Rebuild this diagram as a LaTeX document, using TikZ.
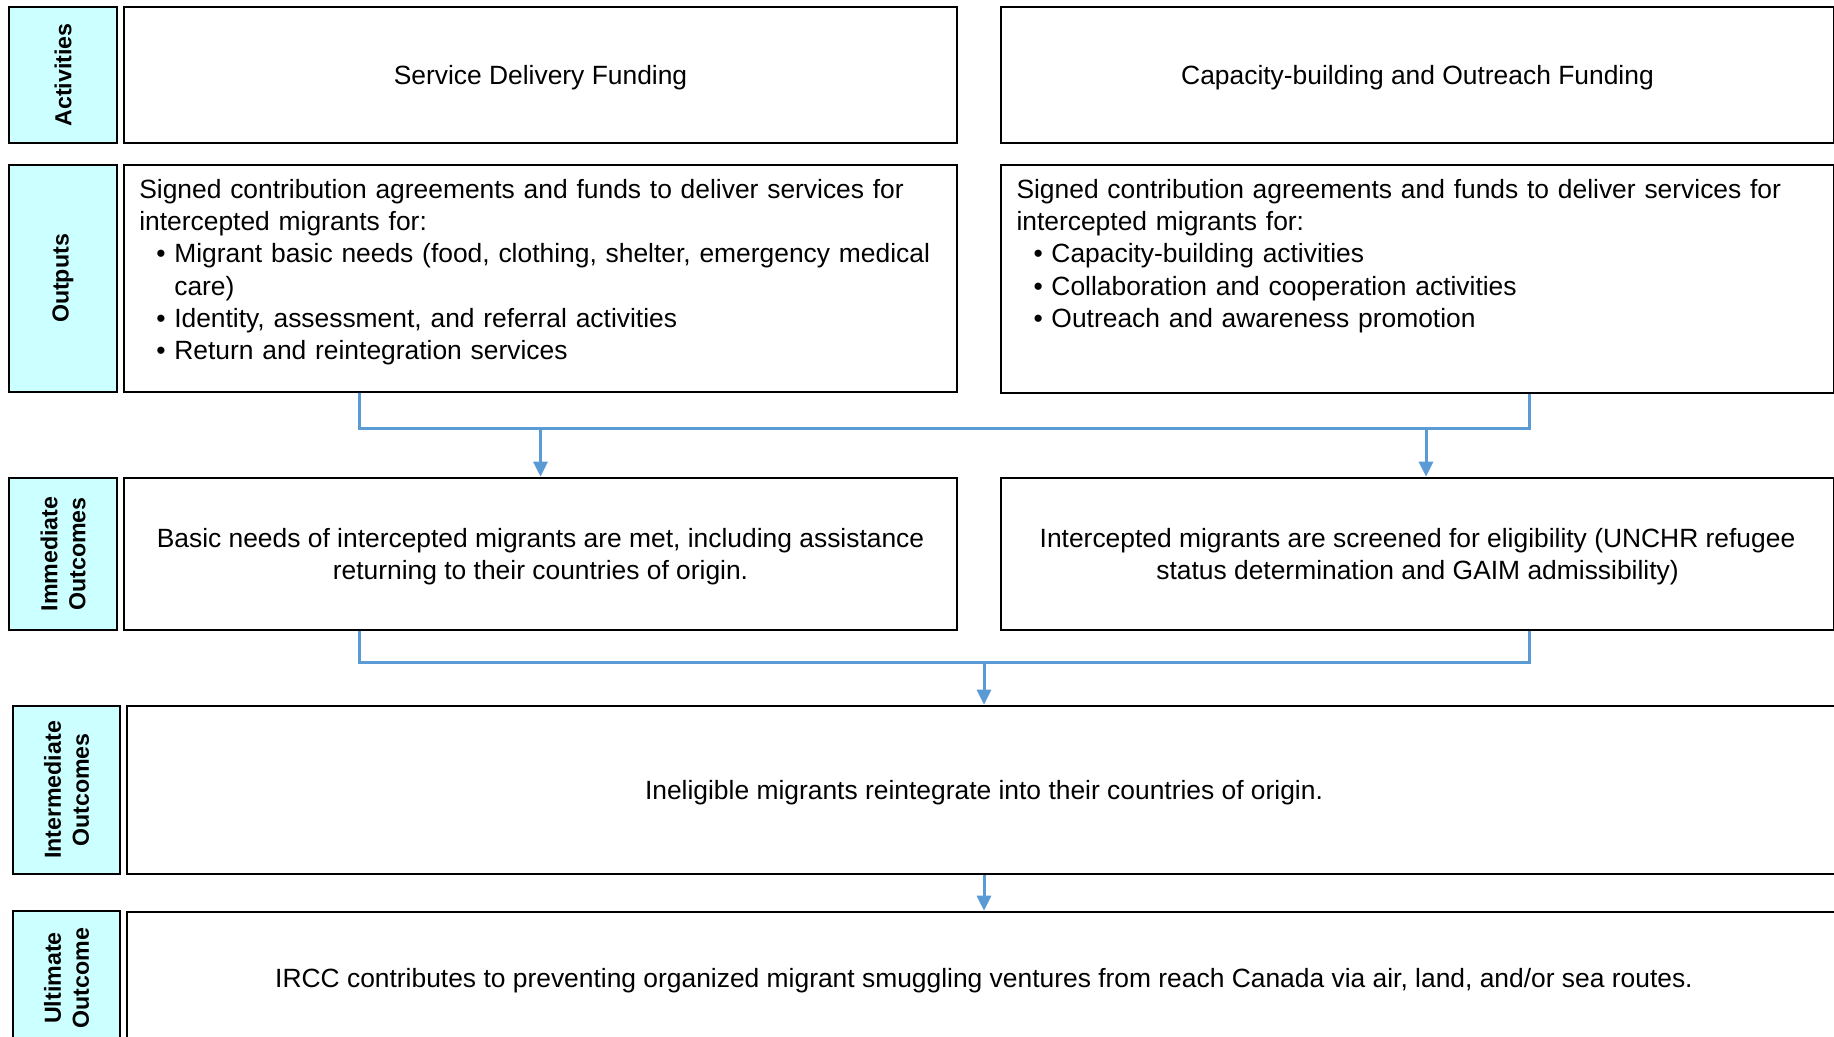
\documentclass[tikz,border=0pt]{standalone}
\usepackage{fontspec}
\setmainfont{Liberation Sans}
\usetikzlibrary{arrows.meta}
\definecolor{tagcyan}{RGB}{204,255,255}
\definecolor{linkblue}{RGB}{91,155,213}
\newcommand\bul[1]{\par\hangindent=17.5pt\hangafter=1\hspace*{8.5pt}\makebox[9pt][l]{\textbullet}#1}

\begin{document}
\begin{tikzpicture}[x=0.5pt,y=-0.5pt,
    every node/.style={font=\fontsize{13.2}{16.1}\selectfont},
    tag/.style={draw,line width=1.3pt,fill=tagcyan,rotate=90,align=center,inner sep=0pt,
        font=\fontsize{11.6}{14}\selectfont\bfseries},
    box/.style={draw,line width=1.3pt,fill=white,align=center,inner sep=0pt,text depth=-1.2pt},
    half/.style={box,minimum width=416.5pt},
    txt/.style={inner sep=0pt,text width=405pt,align=left,anchor=north west},
    link/.style={draw=linkblue,line width=1.5pt},
    arr/.style={link,-{Triangle[length=7.5pt,width=7pt]}}]
    \clip (0,0) rectangle (1834,1037);

    \node[tag,minimum width=68pt,minimum height=54pt] (tagAct) at (63,75) {Activities};
    \node[tag,minimum width=113.5pt,minimum height=54pt] (tagOut) at (63,278.5) {Outputs};
    \node[tag,minimum width=76pt,minimum height=54pt] (tagImm) at (63,554) {Immediate\\Outcomes};
    \node[tag,minimum width=84pt,minimum height=53.5pt] (tagInt) at (66.5,790) {Intermediate\\Outcomes};
    \node[tag,minimum width=67pt,minimum height=53.5pt] (tagUlt) at (66.5,978) {Ultimate\\Outcome};

    \node[half,minimum height=68pt] (actL) at (540.5,75) {Service Delivery Funding};
    \node[half,minimum height=68pt] (actR) at (1417.5,75) {Capacity-building and Outreach Funding};
    \node[half,minimum height=113.5pt] (outL) at (540.5,278.5) {};
    \node[half,minimum height=114pt] (outR) at (1417.5,279) {};
    \node[half,minimum height=76pt] (immL) at (540.5,554)
        {Basic needs of intercepted migrants are met, including assistance\\returning to their countries of origin.};
    \node[half,minimum height=76pt] (immR) at (1417.5,554)
        {Intercepted migrants are screened for eligibility (UNCHR refugee\\status determination and GAIM admissibility)};
    \node[box,minimum width=857pt,minimum height=84pt] (intm) at (984,790)
        {Ineligible migrants reintegrate into their countries of origin.};
    \node[box,minimum width=857pt,minimum height=66pt] (ult) at (984,978)
        {IRCC contributes to preventing organized migrant smuggling ventures from reach Canada via air, land, and/or sea routes.};

    \node[txt] (outLtxt) at ([xshift=8.1pt,yshift=-7.6pt]outL.north west)
        {Signed contribution agreements and funds to deliver services for\newline intercepted migrants for:
        \bul{Migrant basic needs (food, clothing, shelter, emergency medical\newline care)}
        \bul{Identity, assessment, and referral activities}
        \bul{Return and reintegration services}};
    \node[txt] (outRtxt) at ([xshift=8.2pt,yshift=-7.6pt]outR.north west)
        {Signed contribution agreements and funds to deliver services for\newline intercepted migrants for:
        \bul{Capacity-building activities}
        \bul{Collaboration and cooperation activities}
        \bul{Outreach and awareness promotion}};

    \coordinate (busA) at (359,428);
    \coordinate (busB) at (1529,428);
    \coordinate (dropR) at (1426,428);
    \coordinate (busC) at (359,662);
    \coordinate (busD) at (1529,662);

    \draw[link] (outL.south -| busA) -- (busA) -- (busB) -- (outR.south -| busB);
    \draw[arr] (immL.north |- busA) -- (immL.north);
    \draw[arr] (dropR) -- (immR.north -| dropR);
    \draw[link] (immL.south -| busC) -- (busC) -- (busD) -- (immR.south -| busD);
    \draw[arr] (intm.north |- busC) -- (intm.north);
    \draw[arr] (intm.south) -- (ult.north);
\end{tikzpicture}
\end{document}
